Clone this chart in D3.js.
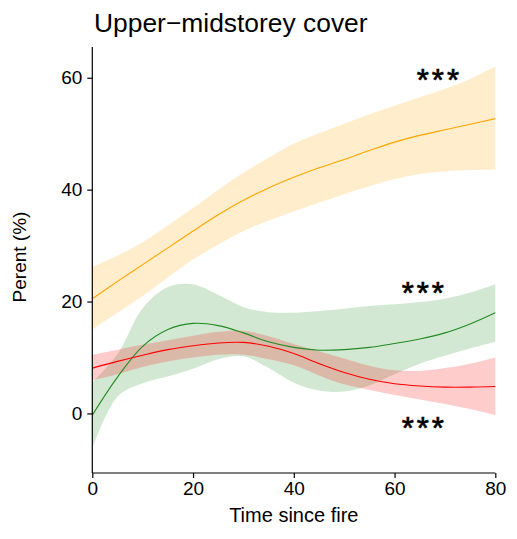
<!DOCTYPE html>
<html>
<head>
<meta charset="utf-8">
<script src="https://cdn.jsdelivr.net/npm/d3@7"></script>
<style>
  html, body { margin: 0; padding: 0; background: #fff; }
  svg text { font-family: "Liberation Sans", Arial, Helvetica, sans-serif; fill: #000; }
</style>
</head>
<body>
<svg id="chart" width="517" height="539"></svg>
<script>
// Fitted cover (%) against time since fire, with confidence ribbons
const time = [0, 5, 10, 15, 20, 25, 30, 35, 40, 45, 50, 55, 60, 65, 70, 75, 80];

const orangeFit   = [20.5, 23.6, 26.6, 29.6, 32.6, 35.5, 38.1, 40.3, 42.2, 43.9, 45.4, 47.0, 48.5, 49.7, 50.7, 51.7, 52.7];
const orangeLower = [15.0, 18.0, 21.0, 24.3, 27.5, 30.2, 32.6, 34.5, 36.1, 37.7, 39.2, 40.6, 41.9, 42.8, 43.3, 43.5, 43.6];
const orangeUpper = [26.2, 28.2, 30.6, 33.6, 36.7, 40.0, 43.0, 45.7, 48.2, 50.1, 51.8, 53.5, 55.0, 56.5, 58.0, 59.8, 62.0];

const greenFit    = [-0.3, 6.5, 12.0, 15.0, 16.1, 15.7, 14.4, 12.8, 11.8, 11.3, 11.4, 11.8, 12.5, 13.3, 14.4, 16.0, 18.0];
const greenLower  = [-6.2, 3.0, 5.4, 6.6, 8.0, 9.7, 10.2, 8.1, 5.5, 4.1, 3.9, 5.0, 7.0, 8.9, 10.3, 11.6, 12.8];
const greenUpper  = [5.5, 10.6, 18.8, 22.6, 23.1, 21.2, 19.0, 18.1, 18.0, 18.3, 18.7, 19.2, 19.5, 19.9, 20.5, 21.6, 23.1];

const redFit      = [8.1, 9.3, 10.4, 11.4, 12.1, 12.6, 12.7, 12.0, 10.7, 8.9, 7.3, 6.1, 5.3, 4.9, 4.7, 4.7, 4.8];
const redLower    = [5.9, 7.0, 8.3, 9.3, 10.0, 10.5, 10.5, 9.7, 8.6, 6.8, 5.2, 4.2, 3.3, 2.5, 1.7, 0.8, -0.3];
const redUpper    = [10.5, 11.4, 12.3, 13.1, 13.9, 14.6, 14.8, 13.8, 12.4, 11.1, 9.8, 8.5, 7.7, 7.6, 8.1, 8.9, 10.0];

const xTicks = [0, 20, 40, 60, 80];
const yTicks = [0, 20, 40, 60];

// Significance markers: [time, cover, label]
const starLabels = [[68.6, 57.6, "***"], [65.6, 19.5, "***"], [65.6, -4.6, "***"]];

const series = [
  { name: "orange", color: "#FFA500", fit: orangeFit, lower: orangeLower, upper: orangeUpper },
  { name: "green",  color: "#228B22", fit: greenFit,  lower: greenLower,  upper: greenUpper },
  { name: "red",    color: "#FF0000", fit: redFit,    lower: redLower,    upper: redUpper }
];

const svg = d3.select("#chart");
const plotLeft = 92.3, plotRight = 495.3, plotTop = 47, plotBottom = 473;

const x = d3.scaleLinear().domain([0, 80]).range([plotLeft, plotRight]);
const y = d3.scaleLinear().domain([-10.65, 65.5]).range([plotBottom, plotTop]);

const curve = d3.curveCatmullRom.alpha(0.5);

const area = (s) => d3.area()
  .x((d, i) => x(time[i]))
  .y0((d, i) => y(s.lower[i]))
  .y1((d, i) => y(s.upper[i]))
  .curve(curve)(time);

const line = (s) => d3.line()
  .x((d, i) => x(time[i]))
  .y((d, i) => y(s.fit[i]))
  .curve(curve)(time);

const plot = svg.append("g");

// ribbons first, then fitted lines on top
series.forEach(s => {
  plot.append("path").attr("d", area(s)).attr("fill", s.color).attr("fill-opacity", 0.2);
});
series.forEach(s => {
  plot.append("path").attr("d", line(s)).attr("fill", "none")
    .attr("stroke", s.color).attr("stroke-width", 1.1);
});

// axes
const xAxis = svg.append("g").attr("transform", `translate(0,${plotBottom})`)
  .call(d3.axisBottom(x).tickValues(xTicks).tickSize(5).tickPadding(4).tickFormat(d3.format("d")));
const yAxis = svg.append("g").attr("transform", `translate(${plotLeft},0)`)
  .call(d3.axisLeft(y).tickValues(yTicks).tickSize(5).tickPadding(5).tickFormat(d3.format("d")));

[xAxis, yAxis].forEach(g => {
  g.select(".domain").attr("stroke", "#000").attr("stroke-width", 1.2);
  g.selectAll(".tick line").attr("stroke", "#000").attr("stroke-width", 1.2);
  g.selectAll(".tick text").attr("fill", "#000")
    .style("font-family", '"Liberation Sans", Arial, sans-serif').style("font-size", "19px");
});
// domain without outer ticks
xAxis.select(".domain").attr("d", `M${plotLeft},0H${plotRight}`);
yAxis.select(".domain").attr("d", `M0,${plotBottom}V${plotTop}`);

// significance stars
svg.selectAll("text.star").data(starLabels).join("text")
  .attr("class", "star")
  .attr("x", d => x(d[0]) + 1.5)
  .attr("y", d => y(d[1]))
  .attr("text-anchor", "middle")
  .style("font-size", "31px")
  .style("letter-spacing", "3px")
  .attr("stroke", "#000")
  .attr("stroke-width", 0.7)
  .text(d => d[2]);

// titles
svg.append("text").attr("x", 94).attr("y", 32)
  .style("font-size", "26.4px").text("Upper\u2212midstorey cover");

svg.append("text").attr("x", (plotLeft + plotRight) / 2).attr("y", 522)
  .attr("text-anchor", "middle").style("font-size", "20px").text("Time since fire");

svg.append("text").attr("transform", "translate(26,257) rotate(-90)")
  .attr("text-anchor", "middle").style("font-size", "19px").text("Perent (%)");
</script>
</body>
</html>
